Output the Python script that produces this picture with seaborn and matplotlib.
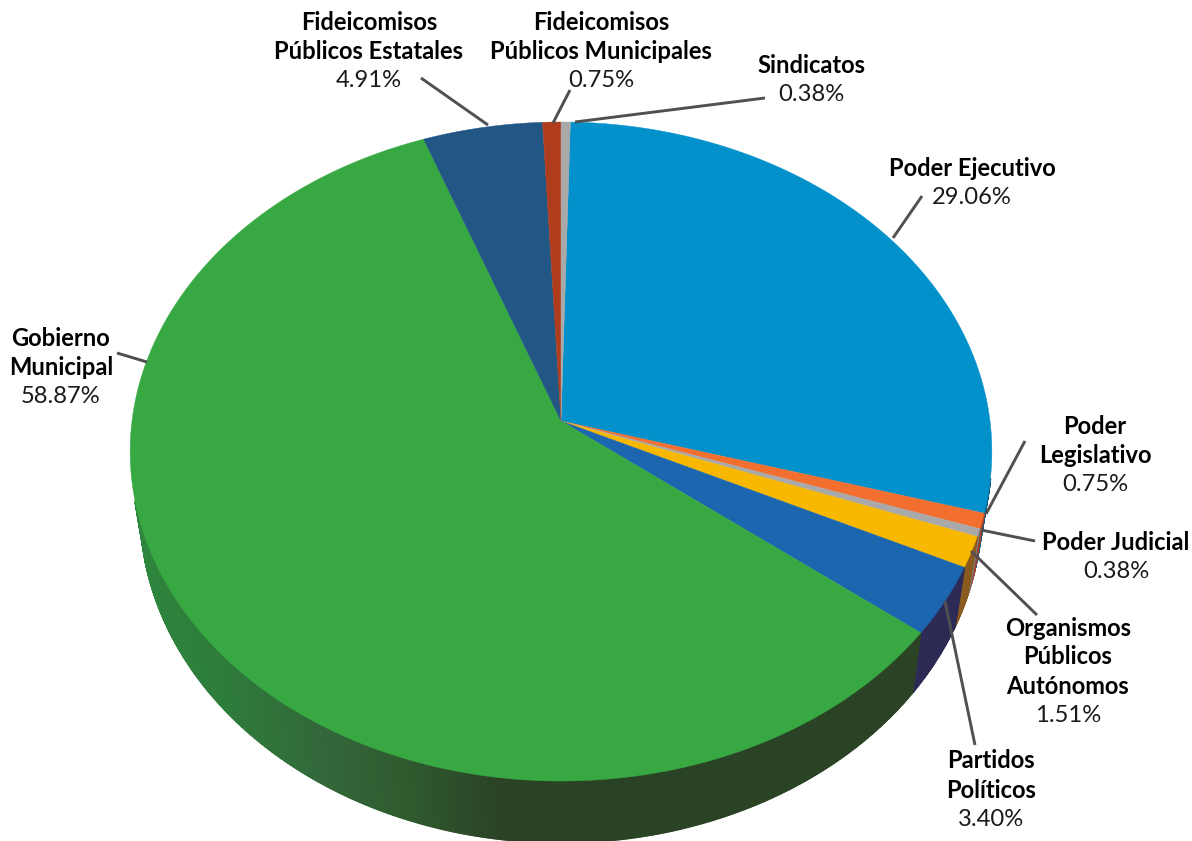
# Pastel 3D: distribucion por tipo de sujeto obligado
import numpy as np
import matplotlib.pyplot as plt
import seaborn as sns

# --- DATOS ---
categorias = ["Poder Ejecutivo", "Poder Legislativo", "Poder Judicial",
              "Organismos Públicos Autónomos", "Partidos Políticos",
              "Gobierno Municipal", "Fideicomisos Públicos Estatales",
              "Fideicomisos Públicos Municipales", "Sindicatos"]
valores = [29.06, 0.75, 0.38, 1.51, 3.40, 58.87, 4.91, 0.75, 0.38]
colores = ["#0291cb", "#f26f30", "#a9a9a9", "#f9b800", "#1c66b0",
           "#38a942", "#215685", "#b03c1e", "#a9a9a9"]
colores_lado = ["#0a5a80", "#a8412a", "#777777", "#8a5a1e", "#2d2a55",
                "#2a4325", "#16364f", "#6d2713", "#777777"]

# lineas de texto de cada etiqueta (negrita + valor)
etiquetas = [["Poder Ejecutivo"], ["Poder", "Legislativo"], ["Poder Judicial"],
             ["Organismos", "Públicos", "Autónomos"], ["Partidos", "Políticos"],
             ["Gobierno", "Municipal"], ["Fideicomisos", "Públicos Estatales"],
             ["Fideicomisos", "Públicos Municipales"], ["Sindicatos"]]
pos_etiquetas = [(972, 168), (1095, 426), (1116, 543), (1068, 628), (991, 761),
                 (61, 338), (369, 22), (601, 22), (811, 65)]
guias = [((922, 196), (893, 238)), ((1025, 441), (986, 514)), ((1035, 541), (981, 530)),
         ((1037, 615), (971, 551)), ((975, 745), (945, 601)), ((117, 353), (147, 362)),
         ((421, 78), (488, 125)), ((570, 90), (553, 123)), ((765, 98), (575, 122))]

# --- GEOMETRIA DEL PASTEL ---
inicio = 1.37  # grados, el primer sector arranca un poco a la derecha de las 12
k = 0.0926


def borde(theta, x0, y0, ax_x, ax_y):
    # perspectiva simple del circulo sobre la elipse
    t = np.radians(theta)
    w = 1 + k * np.cos(t)
    return x0 + ax_x * np.sin(t) / w, y0 - ax_y * np.cos(t) / w


def arriba(theta):
    return borde(theta, 561, 421, 429, 326.7)


def abajo(theta):
    return borde(theta, 561, 479, 419, 330)


sns.set_theme(style="white")
plt.rcParams["font.family"] = ["Lato", "DejaVu Sans"]

fig, ax = plt.subplots(figsize=(11.92, 8.41), dpi=100)
fig.subplots_adjust(0, 0, 1, 1)
ax.set_xlim(0, 1192)
ax.set_ylim(841, 0)
ax.axis("off")

angulos = inicio + np.concatenate([[0], np.cumsum(valores)]) * 360 / sum(valores)

# degradado del lado verde, segun x: oscuro al frente, claro a la izquierda
grad_verde = sns.blend_palette(["#2a4325", "#2f5a2e", "#33683a", "#2e7a3a", "#2e853c"], 300)

# --- LADOS ---
for i in range(len(valores)):
    a0, a1 = angulos[i], angulos[i + 1]
    pasos = max(2, int((a1 - a0) * 4))
    th = np.linspace(a0, a1, pasos + 1)
    for p in range(pasos):
        # solo el frente, lo de atras no se ve y su borde asoma por la tapa
        if not 100 < (th[p] + th[p + 1]) / 2 < 256:
            continue
        color = colores_lado[i]
        xa, ya = arriba(th[p:p + 2])
        xb, yb = abajo(th[p:p + 2])
        if categorias[i] == "Gobierno Municipal":
            idx = int(np.clip((500 - xb.mean()) / 350 * 299, 0, 299))
            color = grad_verde[idx]
        ax.fill(np.r_[xa, xb[::-1]], np.r_[ya, yb[::-1]], color=color, lw=1.2, zorder=1)

# --- TAPA ---
for i in range(len(valores)):
    th = np.linspace(angulos[i], angulos[i + 1], max(3, int(valores[i] * 8)))
    xs, ys = arriba(th)
    ax.fill(np.r_[561, xs], np.r_[421, ys], color=colores[i], lw=0.3, zorder=2)

# --- ETIQUETAS ---
paso = 29
for i, lineas in enumerate(etiquetas):
    x, y = pos_etiquetas[i]
    for n, linea in enumerate(lineas):
        ax.text(x, y + n * paso, linea, ha="center", va="center", fontsize=17.1,
                fontweight="bold", color="black", zorder=4)
    ax.text(x, y + len(lineas) * paso, f"{valores[i]:.2f}%", ha="center", va="center",
            fontsize=17.1, color="#1a1a1a", zorder=4)
    ini, fin = guias[i]
    ax.plot([ini[0], fin[0]], [ini[1], fin[1]], color="#505050", lw=2.1, zorder=3,
            solid_capstyle="butt")

fig.savefig("out.png", dpi=100)
